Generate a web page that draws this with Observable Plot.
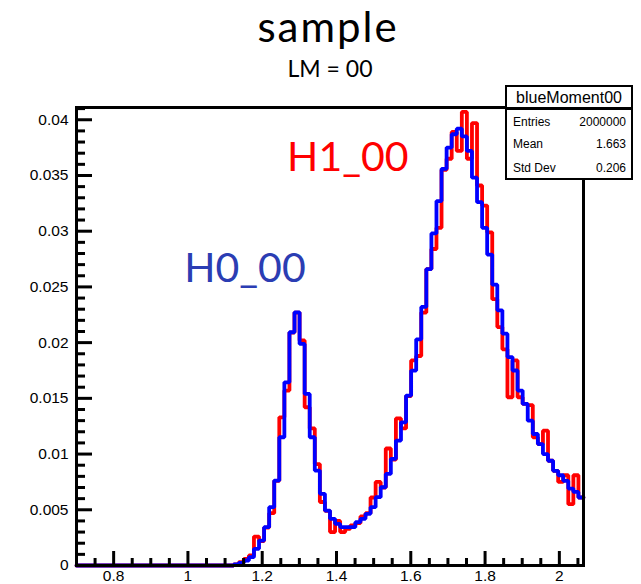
<!DOCTYPE html>
<html>
<head>
<meta charset="utf-8">
<script src="https://cdn.jsdelivr.net/npm/d3@7"></script>
<script src="https://cdn.jsdelivr.net/npm/@observablehq/plot@0.6"></script>
<style>
  body { margin: 0; background: #fff; }
  #wrap { position: relative; width: 641px; height: 584px; overflow: hidden; background: #fff; }
  #stats { position: absolute; left: 505px; top: 85px; width: 128px; height: 95px; box-sizing: border-box;
           border: 2.5px solid #000; background: #fff; font-family: "Liberation Sans", Arial, sans-serif; color: #000; }
  #stats .hd { position: absolute; left: 0; right: 0; top: 3px; text-align: center; font-size: 16px; line-height: 16px; }
  #stats .sep { position: absolute; left: 0; right: 0; top: 20px; height: 2.5px; background: #000; }
  #stats .row { position: absolute; left: 6px; right: 5px; font-size: 12px; line-height: 12px; }
  #stats .row span.v { position: absolute; right: 0; }
</style>
</head>
<body>
<div id="wrap">
  <div id="chart"></div>
  <div id="stats"></div>
</div>
<script>
// ---- data ----
const xMin = 0.7, xMax = 2.065, nBins = 100;

const blueValues = [
  0,0,0,0,0,0,0,0,0,0,
  0,0,0,0,0,0,0,0,0,0,
  0,0,0,0,0,0,0,0,0,0,
  0, 0.0001, 0.00024, 0.00045, 0.00075, 0.0015, 0.00224, 0.00344, 0.00523, 0.00762,
  0.01151, 0.01644, 0.02093, 0.02272, 0.01988, 0.0154, 0.01151, 0.00852, 0.00643, 0.00493,
  0.00419, 0.00374, 0.00344, 0.00344, 0.00344, 0.00389, 0.00419, 0.00464, 0.00523, 0.00613,
  0.00702, 0.00822, 0.00957, 0.01121, 0.01285, 0.01525, 0.01749, 0.0203, 0.0232, 0.0266,
  0.0298, 0.0327, 0.0356, 0.0375, 0.0387, 0.0392, 0.0385, 0.0372, 0.0348, 0.0326,
  0.0303, 0.0279, 0.0252, 0.0229, 0.0208, 0.0187, 0.0175, 0.0157, 0.0145, 0.0130,
  0.0118, 0.0109, 0.0100, 0.0094, 0.0085, 0.0081, 0.0076, 0.0069, 0.0066, 0.0061
];

const redValues = [
  0,0,0,0,0,0,0,0,0,0,
  0,0,0,0,0,0,0,0,0,0,
  0,0,0,0,0,0,0,0,0,0,
  0, 0.0001, 0.0003, 0.0006, 0.0009, 0.0026, 0.0022, 0.0034, 0.0047, 0.0076,
  0.0133, 0.0157, 0.0209, 0.0227, 0.0202, 0.0142, 0.0123, 0.0091, 0.0057, 0.0049,
  0.0030, 0.0040, 0.0030, 0.0033, 0.0036, 0.0038, 0.0044, 0.0047, 0.0061, 0.0075,
  0.0070, 0.0105, 0.0095, 0.0132, 0.0123, 0.0152, 0.0184, 0.0188, 0.0227, 0.0266,
  0.0284, 0.0303, 0.0355, 0.0365, 0.0389, 0.0372, 0.0407, 0.0365, 0.0397, 0.0341,
  0.0323, 0.0299, 0.0239, 0.0214, 0.0194, 0.0151, 0.0184, 0.0151, 0.0145, 0.0144,
  0.0115, 0.0109, 0.0121, 0.0094, 0.0085, 0.0075, 0.0081, 0.0055, 0.0081, 0.0061
];

const xTicks = [0.8, 1, 1.2, 1.4, 1.6, 1.8, 2];
const yTicks = [0, 0.005, 0.01, 0.015, 0.02, 0.025, 0.03, 0.035, 0.04];
const yMax = 0.0411;

const title = "sample";
const subtitle = "LM = 00";
const annotations = [
  {text: "H1_00", x: 1.267, y: 0.0354, color: "#ff0000"},
  {text: "H0_00", x: 0.990, y: 0.0254, color: "#2b3db3"}
];
const statsTitle = "blueMoment00";
const statsRows = [["Entries", "2000000"], ["Mean", "1.663"], ["Std Dev", "0.206"]];

// ---- build ----
const binW = (xMax - xMin) / nBins;
function stepRows(vals) {
  const rows = vals.map((v, i) => ({x: xMin + i * binW, y: v}));
  rows.push({x: xMax, y: vals[vals.length - 1]});
  return rows;
}
const blueRows = stepRows(blueValues);
const redRows = stepRows(redValues);

const xMinor = d3.range(0.75, 2.06, 0.05).map(d => +d.toFixed(3)).filter(d => !xTicks.some(t => Math.abs(t - d) < 1e-6));
const yMinor = d3.range(0, 0.0411, 0.001).map(d => +d.toFixed(4)).filter(d => !yTicks.some(t => Math.abs(t - d) < 1e-7));

const W = 641, H = 584, mL = 76, mR = 58, mT = 107, mB = 19;
const fw = W - mL - mR, fh = H - mT - mB;

const plot = Plot.plot({
  width: W, height: H,
  marginLeft: mL, marginRight: mR, marginTop: mT, marginBottom: mB,
  style: {fontFamily: "'Liberation Sans', Arial, sans-serif", fontSize: "15.5px", color: "#000", background: "#fff"},
  x: {domain: [xMin, xMax]},
  y: {domain: [0, yMax]},
  marks: [
    Plot.axisY({ticks: yTicks, tickSize: 0, tickPadding: 8, tickFormat: d => String(d), label: null, fontSize: 15.5}),
    Plot.axisX({ticks: xTicks, tickSize: 0, tickPadding: 4, tickFormat: d => String(d), label: null, fontSize: 15.5}),
    Plot.line(redRows, {x: "x", y: "y", curve: "step-after", stroke: "#ff0000", strokeWidth: 3.8, strokeLinejoin: "miter"}),
    Plot.line(blueRows, {x: "x", y: "y", curve: "step-after", stroke: "#0000ff", strokeWidth: 3.8, strokeLinejoin: "miter"}),
    Plot.tickY(yMinor, {y: d => d, stroke: "#000", strokeWidth: 3, insetRight: fw - 9}),
    Plot.tickY(yTicks, {y: d => d, stroke: "#000", strokeWidth: 3, insetRight: fw - 16}),
    Plot.tickX(xMinor, {x: d => d, stroke: "#000", strokeWidth: 3, insetTop: fh - 7}),
    Plot.tickX(xTicks, {x: d => d, stroke: "#000", strokeWidth: 3, insetTop: fh - 14}),
    Plot.frame({stroke: "#000", strokeWidth: 3}),
    Plot.text(annotations, {x: "x", y: "y", text: "text", fill: "color", textAnchor: "start", lineAnchor: "bottom",
      fontSize: 41, fontFamily: "Lato, 'Open Sans', sans-serif"}),
    Plot.text([title], {frameAnchor: "top", text: d => d, dx: -2, dy: -65.5, lineAnchor: "bottom",
      fontSize: 42, fontFamily: "Lato, 'Open Sans', sans-serif", fill: "#000", className: "ttl"}),
    Plot.text([subtitle], {frameAnchor: "top", text: d => d, dx: 0, dy: -30.5, lineAnchor: "bottom",
      fontSize: 23, fontFamily: "Lato, 'Open Sans', sans-serif", fill: "#000"})
  ]
});
d3.select(plot).selectAll(".ttl text").attr("letter-spacing", "2px");
document.getElementById("chart").appendChild(plot);

// stats box
const stats = document.getElementById("stats");
const hd = document.createElement("div"); hd.className = "hd"; hd.textContent = statsTitle; stats.appendChild(hd);
const sep = document.createElement("div"); sep.className = "sep"; stats.appendChild(sep);
const rowTops = [29, 50.5, 75];
statsRows.forEach((r, i) => {
  const d = document.createElement("div"); d.className = "row"; d.style.top = rowTops[i] + "px";
  const a = document.createElement("span"); a.textContent = r[0];
  const b = document.createElement("span"); b.className = "v"; b.textContent = r[1];
  d.appendChild(a); d.appendChild(b); stats.appendChild(d);
});
</script>
</body>
</html>
